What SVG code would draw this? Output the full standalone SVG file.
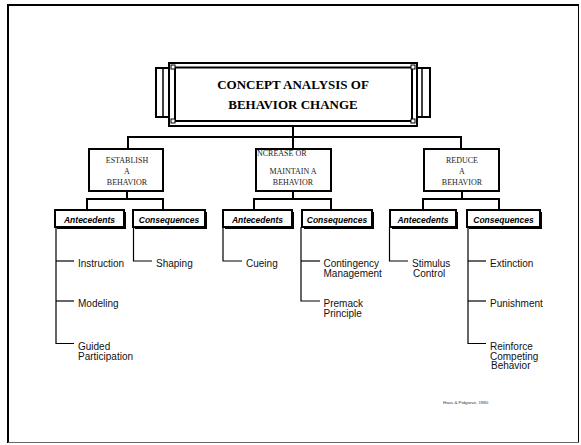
<svg xmlns="http://www.w3.org/2000/svg" width="581" height="445" viewBox="0 0 581 445">
<style>
.frame{fill:none;stroke:#000}
.box{fill:#fff;stroke:#000;stroke-width:2}
.shadow{fill:#000}
.conn{fill:none;stroke:#000;stroke-width:2}
.leaf{fill:none;stroke:#000;stroke-width:1.2}
.title{font-family:"Liberation Serif","Times New Roman",serif;font-weight:bold;font-size:13px;fill:#000;text-anchor:middle}
.l2{font-family:"Liberation Serif","Times New Roman",serif;font-size:8px;fill:#222;text-anchor:middle}
.l3{font-family:"Liberation Sans",Arial,sans-serif;font-weight:bold;font-style:italic;font-size:8.5px;fill:#000;text-anchor:middle}
.lf{font-family:"Liberation Sans",Arial,sans-serif;font-size:10px;fill:#111}
.cite{font-family:"Liberation Sans",Arial,sans-serif;font-size:4.4px;fill:#333}
</style>
<rect width="581" height="445" fill="#fff"/>
<g id="page-frame">
<line x1="8" y1="5" x2="579" y2="5" stroke="#000" stroke-width="2"/>
<line x1="8" y1="4" x2="8" y2="443" stroke="#000" stroke-width="2"/>
<line x1="578.5" y1="5" x2="578.5" y2="443" stroke="#000" stroke-width="1"/>
<line x1="8" y1="442.5" x2="579" y2="442.5" stroke="#666" stroke-width="1"/>
</g>
<g id="connectors">
<polyline class="conn" points="293,126 293,137"/>
<polyline class="conn" points="128,149 128,137 461,137 461,149"/>
<polyline class="conn" points="293,137 293,149"/>
<polyline class="conn" points="127,191 127,199"/>
<polyline class="conn" points="87,210 87,199 163,199 163,210"/>
<polyline class="conn" points="293,191 293,199"/>
<polyline class="conn" points="254,210 254,199 331,199 331,210"/>
<polyline class="conn" points="462,191 462,199"/>
<polyline class="conn" points="423,210 423,199 499,199 499,210"/>
<polyline class="leaf" points="56,227 56,343.5 74,343.5"/>
<line class="leaf" x1="56" y1="261" x2="74" y2="261"/>
<line class="leaf" x1="56" y1="301" x2="74" y2="301"/>
<polyline class="leaf" points="133.5,227 133.5,261 152,261"/>
<polyline class="leaf" points="223,227 223,261 242,261"/>
<polyline class="leaf" points="301,227 301,301 320,301"/>
<line class="leaf" x1="301" y1="261" x2="320" y2="261"/>
<polyline class="leaf" points="389.5,227 389.5,261 408,261"/>
<polyline class="leaf" points="468,227 468,343.5 486,343.5"/>
<line class="leaf" x1="468" y1="261" x2="486" y2="261"/>
<line class="leaf" x1="468" y1="301" x2="486" y2="301"/>
</g>
<g id="title">
<rect class="box" x="156" y="68" width="19" height="49"/>
<line x1="163" y1="68" x2="163" y2="117" stroke="#000" stroke-width="1.5"/>
<rect class="box" x="412" y="68" width="18" height="49"/>
<line x1="422" y1="68" x2="422" y2="117" stroke="#000" stroke-width="1.5"/>
<rect class="box" x="169" y="63" width="248" height="63"/>
<rect class="box" x="175" y="67.5" width="237" height="53.5"/>
<rect x="171" y="65" width="4" height="4" fill="#fff" stroke="#000" stroke-width="1"/>
<rect x="171" y="119" width="4" height="4" fill="#fff" stroke="#000" stroke-width="1"/>
<rect x="411" y="65" width="4" height="4" fill="#fff" stroke="#000" stroke-width="1"/>
<rect x="411" y="119" width="4" height="4" fill="#fff" stroke="#000" stroke-width="1"/>
<text class="title" x="293" y="89">CONCEPT ANALYSIS OF</text>
<text class="title" x="293" y="109">BEHAVIOR CHANGE</text>
</g>
<g id="establish">
<rect class="box" x="89" y="149" width="74" height="42"/>
<text class="l2" x="127" y="162.5">ESTABLISH</text>
<text class="l2" x="127" y="174">A</text>
<text class="l2" x="127" y="185">BEHAVIOR</text>
</g>
<g id="increase">
<rect class="box" x="256" y="149" width="75" height="42"/>
<text class="l2" x="257" y="156" style="text-anchor:start">NCREASE OR</text>
<text class="l2" x="293" y="173.5">MAINTAIN A</text>
<text class="l2" x="293" y="185">BEHAVIOR</text>
</g>
<g id="reduce">
<rect class="box" x="424" y="149" width="75" height="42"/>
<text class="l2" x="462" y="163">REDUCE</text>
<text class="l2" x="462" y="174">A</text>
<text class="l2" x="462" y="185">BEHAVIOR</text>
</g>
<g id="establish-antecedents">
<rect class="shadow" x="57" y="212" width="69" height="17"/>
<rect class="box" x="55" y="210" width="69" height="17"/>
<text class="l3" x="89.5" y="222.5">Antecedents</text>
</g>
<g id="establish-consequences">
<rect class="shadow" x="135" y="212" width="72" height="17"/>
<rect class="box" x="133" y="210" width="72" height="17"/>
<text class="l3" x="169" y="222.5">Consequences</text>
</g>
<g id="increase-antecedents">
<rect class="shadow" x="225" y="212" width="69" height="17"/>
<rect class="box" x="223" y="210" width="69" height="17"/>
<text class="l3" x="257.5" y="222.5">Antecedents</text>
</g>
<g id="increase-consequences">
<rect class="shadow" x="304" y="212" width="70" height="17"/>
<rect class="box" x="302" y="210" width="70" height="17"/>
<text class="l3" x="337" y="222.5">Consequences</text>
</g>
<g id="reduce-antecedents">
<rect class="shadow" x="392" y="212" width="66" height="17"/>
<rect class="box" x="390" y="210" width="66" height="17"/>
<text class="l3" x="423" y="222.5">Antecedents</text>
</g>
<g id="reduce-consequences">
<rect class="shadow" x="469" y="212" width="73" height="17"/>
<rect class="box" x="467" y="210" width="73" height="17"/>
<text class="l3" x="503.5" y="222.5">Consequences</text>
</g>
<g id="leaf-instruction"><text class="lf" x="78" y="267">Instruction</text></g>
<g id="leaf-modeling"><text class="lf" x="78" y="307">Modeling</text></g>
<g id="leaf-guided"><text class="lf" x="78" y="350">Guided</text><text class="lf" x="78" y="359.5">Participation</text></g>
<g id="leaf-shaping"><text class="lf" x="156" y="267">Shaping</text></g>
<g id="leaf-cueing"><text class="lf" x="246" y="267">Cueing</text></g>
<g id="leaf-contingency"><text class="lf" x="323.5" y="267">Contingency</text><text class="lf" x="323.5" y="276.5">Management</text></g>
<g id="leaf-premack"><text class="lf" x="323.5" y="307">Premack</text><text class="lf" x="323.5" y="316.5">Principle</text></g>
<g id="leaf-stimulus"><text class="lf" x="412" y="267">Stimulus</text><text class="lf" x="413" y="276.5">Control</text></g>
<g id="leaf-extinction"><text class="lf" x="490" y="267">Extinction</text></g>
<g id="leaf-punishment"><text class="lf" x="490" y="307">Punishment</text></g>
<g id="leaf-reinforce"><text class="lf" x="490" y="350">Reinforce</text><text class="lf" x="490" y="359.5">Competing</text><text class="lf" x="491" y="369">Behavior</text></g>
<g id="citation"><text class="cite" x="443" y="403.5">Haus &amp; Pidgrove, 1980</text></g>
</svg>
